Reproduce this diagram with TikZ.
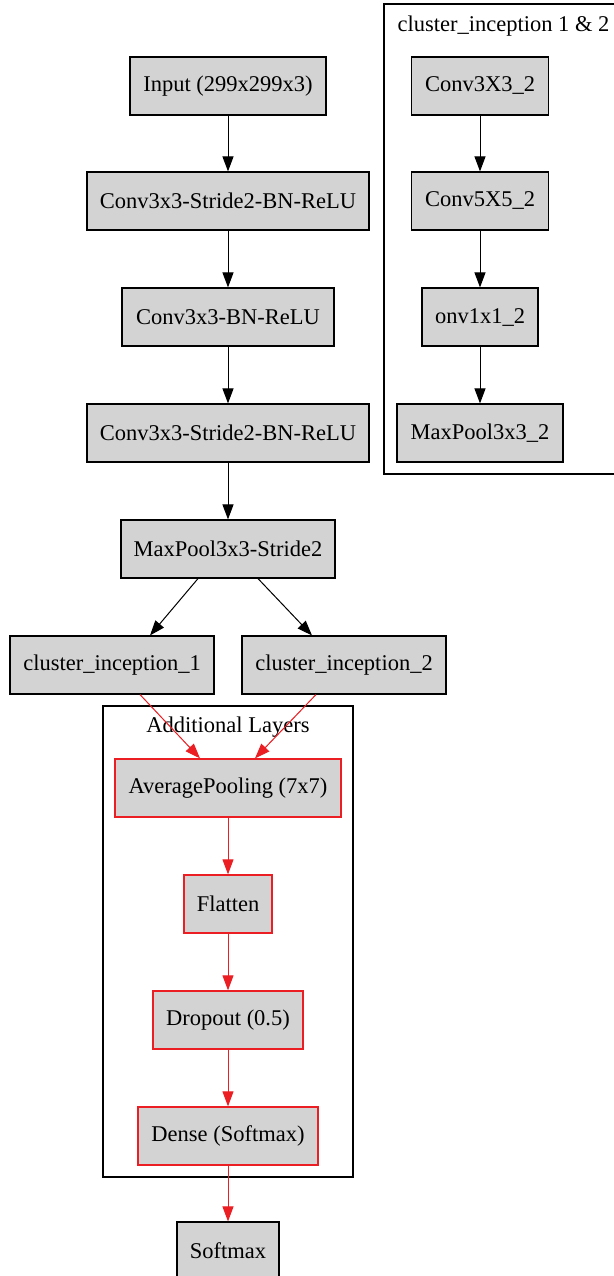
\documentclass[tikz,border=0pt]{standalone}
\usepackage{fontspec}
\setmainfont{Liberation Serif}
\usetikzlibrary{arrows.meta}
\definecolor{edgered}{RGB}{235,30,35}
\definecolor{boxgray}{RGB}{211,211,211}
\begin{document}
\begin{tikzpicture}[x=1pt, y=-1pt, font=\fontsize{22.5}{26}\selectfont,
    layer/.style={draw, fill=boxgray, line width=1.15pt, minimum height=58pt, inner sep=0pt},
    extra/.style={layer, draw=edgered, line width=1.3pt},
    flow/.style={-{Triangle[length=15pt,width=11pt]}, line width=1pt},
    redflow/.style={flow, draw=edgered, fill=edgered},
    group/.style={draw, line width=1.1pt}]
    \useasboundingbox (0,0) rectangle (613,1276);

    % Cluster frames
    \draw[group] (640,4) -- (384,4) -- (384,474) -- (640,474);
    \node[anchor=west] (inclabel) at (394,26) {cluster\_inception 1 \& 2};
    \draw[group] (103,706) rectangle (353,1177);
    \node (addlabel) at (228,727) {Additional Layers};

    % Main stem
    \node[layer, minimum width=196pt] (input) at (228,86) {Input (299x299x3)};
    \node[layer, minimum width=282pt] (conva) at (228,201) {Conv3x3-Stride2-BN-ReLU};
    \node[layer, minimum width=212pt] (convb) at (228,317) {Conv3x3-BN-ReLU};
    \node[layer, minimum width=282pt] (convc) at (228,433) {Conv3x3-Stride2-BN-ReLU};
    \node[layer, minimum width=214pt] (pool) at (228,549) {MaxPool3x3-Stride2};

    % Inception branches
    \node[layer, minimum width=204pt] (incA) at (112,665) {cluster\_inception\_1};
    \node[layer, minimum width=204pt] (incB) at (344,665) {cluster\_inception\_2};

    % Additional layers
    \node[extra, minimum width=226pt] (avg) at (228,788) {AveragePooling (7x7)};
    \node[extra, minimum width=88pt] (flat) at (228,904) {Flatten};
    \node[extra, minimum width=150pt] (drop) at (228,1020) {Dropout (0.5)};
    \node[extra, minimum width=180pt] (dense) at (228,1136) {Dense (Softmax)};
    \node[layer, minimum width=102pt] (soft) at (228,1251) {Softmax};

    % Inception block detail
    \node[layer, minimum width=137pt] (incconv3) at (480,86) {Conv3X3\_2};
    \node[layer, minimum width=137pt] (incconv5) at (480,201) {Conv5X5\_2};
    \node[layer, minimum width=116pt] (incconv1) at (480,317) {onv1x1\_2};
    \node[layer, minimum width=166pt] (incpool) at (480,433) {MaxPool3x3\_2};

    % Connections
    \foreach \A/\B in {input/conva, conva/convb, convb/convc, convc/pool,
                       incconv3/incconv5, incconv5/incconv1, incconv1/incpool} {
        \draw[flow] (\A) -- (\B);
    }
    \draw[flow] ([xshift=-30pt]pool.south) -- ([xshift=38pt]incA.north);
    \draw[flow] ([xshift=30pt]pool.south) -- ([xshift=-32pt]incB.north);
    \draw[redflow] ([xshift=28pt]incA.south) -- ([xshift=-28pt]avg.north);
    \draw[redflow] ([xshift=-28pt]incB.south) -- ([xshift=27pt]avg.north);
    \foreach \A/\B in {avg/flat, flat/drop, drop/dense, dense/soft} {
        \draw[redflow] (\A) -- (\B);
    }
\end{tikzpicture}
\end{document}
